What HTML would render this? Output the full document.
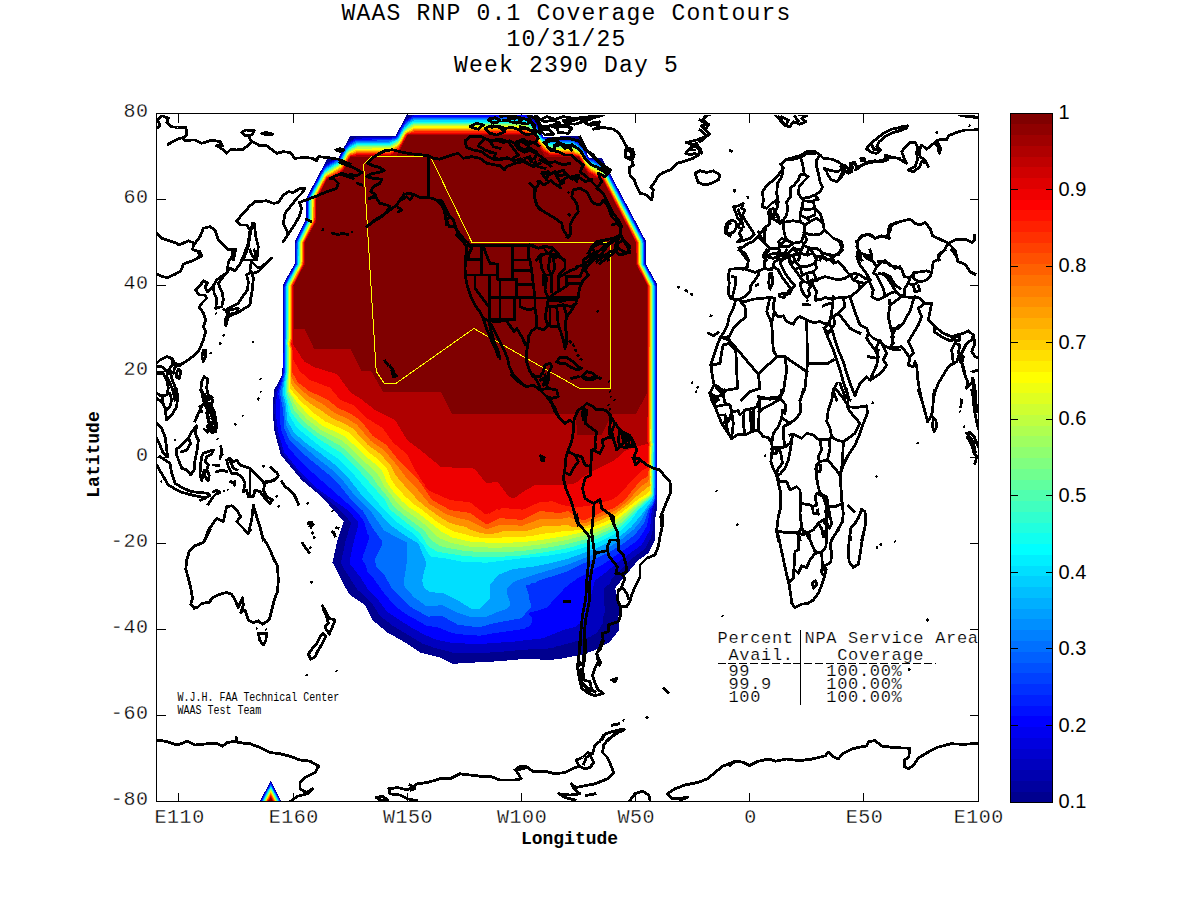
<!DOCTYPE html><html><head><meta charset="utf-8"><title>WAAS RNP 0.1 Coverage Contours</title><style>html,body{margin:0;padding:0;background:#fff;overflow:hidden}svg{display:block}</style></head><body><svg width="1200" height="900" viewBox="0 0 1200 900" style="display:block">
<rect width="1200" height="900" fill="#fff"/>
<g stroke="#000" stroke-width="1" fill="none" shape-rendering="crispEdges">
<path d="M178.5,801V792.5M178.5,114V122.5M293.5,801V792.5M293.5,114V122.5M407.5,801V792.5M407.5,114V122.5M521.5,801V792.5M521.5,114V122.5M635.5,801V792.5M635.5,114V122.5M749.5,801V792.5M749.5,114V122.5M863.5,801V792.5M863.5,114V122.5M157,199.5H165.5M978,199.5H969.5M157,285.5H165.5M978,285.5H969.5M157,371.5H165.5M978,371.5H969.5M157,457.5H165.5M978,457.5H969.5M157,543.5H165.5M978,543.5H969.5M157,629.5H165.5M978,629.5H969.5M157,715.5H165.5M978,715.5H969.5"/>
</g>
<g shape-rendering="crispEdges" clip-path="url(#axclip)">
<clipPath id="axclip"><rect x="157" y="115" width="821" height="686"/></clipPath>
<path fill="#00008F" d="M407.6,113 532.3,113 543.3,136.7 579.1,136.3 589.2,158.3 602,158.3 646,241.2 645.8,263.8 657.4,284.8 657.4,500 656.7,510 655,520 655,540 648.3,553.3 638.3,560 630,570 621.7,580 615,588.3 618.3,600 621.7,613.3 618.3,616.7 619.2,630 610,641.7 595,650 580,655 563.3,658.3 550,660 525,658.8 500,661.2 475,662.5 452.5,663.8 440,657.5 420,652.5 405,642.5 387.5,632.5 372.5,620 365,605 350,595 343.8,585 332.5,562.5 337.5,540 343.8,521.2 333.3,510 322.5,497.5 301.7,480 280.8,455 274.2,430 272.5,408.3 274.2,390 282.5,374.2 282.7,285 294.7,263.7 294.7,241.7 305.8,219.2 305.8,199 327.5,158.3 338.3,158.3 349.8,136.3 395.7,135.8Z"/>
<path fill="#0000BF" d="M412.4,115 414,114.2 526,114.2 533,118.6 534.4,120 543,136.8 550,137.7 573,137.6 581.1,143 588.1,157 590,158.9 595,159 603,163.7 605,165.6 644.6,240 645.2,243 645.2,264 655.8,283 656.8,287 656.7,499 654.2,510 652.9,520 652.5,531 650.8,538 645,548.8 635,556.1 623.1,567 612.4,578 611,580 611,581 610,582 610,583 608,585 607,585 604,588 604,604 604.9,607 605,612 604,613 604,615 603,616 603,623 599,629.7 598,630 598,631 595,634 592,635 590,637 589,637 587.6,638 559,646 557,646 556,646.8 552,648 548,648 547,649 525,649.6 499,652 480,653.1 456,653.5 452,653 451,652 434,647.7 423.3,644 393,625.9 380,616 371.9,603 357,589.1 343.4,568 341.4,564 341.1,562 345.3,542 351,523 348,520 348,519 347,518 346.8,517 343,513 323.8,496 313.7,488 302.9,478 282.3,453 275.9,430 274.1,409 275.6,391 282.9,374 283.3,287 284.4,283 295.1,264 295.4,243 296.1,240 306.4,219 306.4,201 307.5,197 324.2,166 326,163.9 334,159.3 338,158.9 340.8,155 345,146.7 348,142.4 356,137.4 389,137 395,136.4 396.9,135 405,120.1Z"/>
<path fill="#0000FF" d="M412.8,116 414,115.4 526,115.4 534,120.9 538,127.5 542,136.1 544,137.7 548,138.1 550,138.8 573,138.7 579.8,143 583.9,149 588,157.9 589,158.9 595,160.1 603,164.7 606.5,169 644.1,240 644.8,243 644.8,264 655.2,283 656.1,286 656.2,493 656,499 651.8,510 650,530 642.2,544 641,545.3 618,562 607,571.5 595.7,580 594.5,582 590.2,599 588,614 586,618 580,624 579,624 575.3,627 563,630.1 543,638.3 513,641.7 481,643.9 453,643.2 437,640 423,634 409,626.1 387.3,612 378.3,600 368.4,590 360,576.7 350,564 349.9,560 353,544.8 358.6,524 357.8,521 347,509.7 315,487 300,472 284,452 278,431.5 276,415 275.8,409 277,392 283.4,374 283.9,287 285.1,283 295.7,264 296,243 296.7,240 307,219 307,201 308.1,197 323,169 325,166.2 327,164.4 334.6,160 338.6,159 340,157.5 345,147.9 349,142.8 356,138.6 389,138.1 396,136.7 397,135.7 402,126.2 405.6,121Z"/>
<path fill="#0030FF" d="M413.2,117 526,116.7 532,120.4 534,122.6 537.7,128 541.9,137 543,138.1 548,138.8 550,139.9 573,139.9 579,143.5 583.2,149 587.5,158 589,159.7 594,160.5 603,165.9 606,169.2 643.5,240 644.3,243 644.3,264 654.7,283 655.6,286 655.6,493 655.3,499 653.1,505 650,510 647,526 638.9,539 637,541 603.6,564 595,568.6 592,571 591,571 590,572 589,572 588,573 587,573 586,574 585,574 584,575 583,575 582,576 581,576 580,577 577,578 574,581 573,581 571,583 570,583 566,587 565,587 563,589 563,590 551,602 551,603 546,608 544,608 543,609 541,609 540,610 538,610 537,611 534,611 533,612 530,612 529,613 529,615 532,618 532,622 531,623 531,624 528,627 527,627 524,629 495,633 480,635.7 455,633.9 454,633 452,633 437,627.1 432,627 431,626 427,625.9 406,614.2 401,610.6 394.3,605 391,601.4 383.9,593 374,579 369.1,574 367,571 367,569 366,568 366,566 365,565 365,564 363,562 363,561 362,560 363,555.4 367.1,545 367,543 368,542 368,540 369,539 369,536 367,534 367,531 366,530 366,528 365,527 365,524 364,523 364,522 362.3,519 358,513.3 351.5,507 309,469.5 294.8,455 288,447 288,446 286,443.1 280.8,429 279.6,411 280.1,401 278.7,397 278.4,393 284.2,372 284.5,287 285.7,283 296.3,264 296.5,243 297.3,240 307.6,219 307.6,201 308.7,197 324.5,168 327,165.4 335,160.9 339,159.7 340,158.7 345.6,148 349,144 356,139.7 389,139.3 396,137.6 397.5,136 402.2,127 405,123 407,120.9Z"/>
<path fill="#0070FF" d="M413.7,118 526,117.9 532,121.9 535,125.2 537.2,128 541.4,137 543,138.7 547,139.5 550,141 573,141 578,144 583,149.6 587,158 588.6,160 593,161.1 602,166.2 606,170.4 606.9,172 643,240 643.7,243 643.7,264 654.1,283 655.2,287 655,493 654.6,499 653,504 648.3,510 644.3,523 634,535.7 623,543.6 610,551.8 596,558.7 582,564 567,571.7 537.3,581 536,582 536,583 532,583 529,585 526,585 526,588 527,589 527,591 528,592 528,594 529,595 529,598 531,605 531,607 522,617.6 519,618.7 495,623 479,627.3 458,624.8 442,616 428,616.6 410,606.6 394,590.6 391.6,588 383.8,574 376,567 376,564 375,563 375.2,559 379.7,550 381.1,546 382,545 382,541 371.9,527 363,510.9 352,500.8 341,487 328,474 301,452 290,441 284,428 283.3,411 279.9,393 284.8,372 285.1,287 286.3,283 296.8,264 297.1,243 297.9,240 307.9,220 308.1,201 308.8,198 323.7,170 327.8,166 336,161.2 339,160.6 340.4,159 346,148.4 349,145.2 356,140.9 357,140.7 389,140.4 396,138.4 398,136.3 404,125.7 408,121.5Z"/>
<path fill="#009FFF" d="M412.3,120 414,119.1 526,119.1 531,122.3 537,128.8 541,137.1 543,139.2 547,140.2 550,142.1 573,142.1 578,145.2 583,150.6 587,159 588,160 590,161.3 593,161.8 601.5,167 606.3,172 642.4,240 643.2,243 643.2,264 653.5,283 654.5,286 654.6,486 654,499 652,503 646.7,510 641.6,520 634,529.2 622,539 610,546.7 597,553.2 567,564.9 532,575.4 513.2,582 507,589 507,593 510,602 510,605 509,606 509,607 505,609.5 497.5,612 487,616.6 470,616.7 455,611.7 442,605.1 430,606.3 426,606 413.8,597 405,587 404,585 403.8,582 406.7,563 407,543 406,542 405,542 404,541 397,537.7 384,530.4 370.6,511 356,497 344,482 331,469 317,458 292,436.8 285.7,424 285,408 281.5,393 285.4,372 285.2,342 285.6,338 285.7,287 286.4,284 297.3,264 297.6,243 298.5,240 308.5,220 308.7,201 309.4,198 324,170.8 328,166.9 336.6,162 339.4,161 341,159.1 346,149.6 349,146.3 357,141.8 389,141.6 392,140.2 395,139.5 398,137.5 403.1,128 408,122.7Z"/>
<path fill="#00DFFF" d="M412.6,121 414,120.3 526,120.4 530.1,123 535.4,128 537,129.8 541,138.1 544,140.3 546.4,141 550,143.2 573,143.2 577.6,146 582.6,151 587,160 588,161 592,162.5 601,167.8 606,172.6 641.8,240 642.6,243 642.7,264 653,283.1 654,286 654.3,446 653.8,494 653,498.8 642,514 631,527.2 621,535.4 610,541.7 597.3,548 567,559.1 551,563 533,566.7 513,569.1 498,575 490,585 490,598 480,609 472,609 456,599.4 444,593.4 430,592 424,588 424,587 423,586 423,583 422,582 424.1,571 425,569.2 425.2,567 425.9,566 426,562 419,545 416,542 407,536.8 390.1,525 377.6,511 371.1,505 360,493 346.9,476 334,464 320,453 306,443 294,432.8 287,420 286.2,406 283.1,394 283.3,388 286,372 285.7,342 286.2,338 286.4,286 287,284 297.9,264 298.2,243 299.1,240 309.1,220 309.3,201 309.9,198 324,171.7 328,168 340,161.3 341,160.3 347,149.3 349.7,147 357,143 390,142.5 397,139.5 398.4,138 403.9,128 409,123.3Z"/>
<path fill="#10FFEF" d="M413,122 414,121.6 526,121.7 531,125 536.4,130 541,139 542,140 546,141.6 550,144.3 573,144.3 577,146.8 582,151.2 586.5,160 588,161.7 592,163.3 601,168.8 605.6,173 641.2,240 642.1,243 642.2,264 652.9,284 653.5,287 653.4,441 653.7,445 653.2,463 653.6,469 653.1,471 653.5,475 653.1,479 653.3,494 652.9,497 638,510.8 629.8,522 622,529.7 610,536.7 600,541.7 587,546.7 566,552.7 548,555.7 515.5,559 487,562.7 462,561.8 456,560.6 455,560 451,559.6 450,559 431,556.7 429,555 423,544.6 414,534.2 398,523 384.2,510 349.9,470 337,458 322,448 298.2,429 296.4,427 289,415 287,402 284.6,394 284.5,389 286.7,372 286.7,347 286.2,342 286.9,338 286.9,287 287.6,284 298.4,264 298.7,243 299.7,240 309.7,220 309.9,201 310.5,198 324,172.7 329,168.5 340,162.3 341.3,161 346.7,151 350,147.7 357,144.1 390,143.7 397.4,140 399,138 404,129.1 408.4,125Z"/>
<path fill="#50FFAF" d="M413.5,123 525,122.8 529.2,125 536,130.6 540.5,139 542,140.7 550,145.4 573,145.4 577.1,148 582,152.3 586,160.1 588,162.3 603,171.1 605,173.1 641,240.8 641.5,243 641.7,264 652.3,284 653,287 652.8,441 653.2,445 652.8,447 652.6,463 653.1,469 652.5,472 653,475 652.5,479 653,484 652.5,488 652.8,494 652,496.6 638.1,509 630,518 622,525.7 610,532.7 600,537.7 587,542.6 567,548.4 546.6,552 520,555.7 486,557.5 463,555.8 437,551.7 428,546 420.4,534 419,532.6 390,509.7 385,500 354,465.1 340,452 326,443.6 317,437.5 302,425.7 299.2,423 291,412 286.2,394 285.7,389 287.3,372 287.3,347 286.8,342 287.5,338 287.6,286 288.2,284 299,264 299.3,243 300,240.5 310.2,220 310.5,201 311.1,198 324,173.8 328.2,170 340.1,163 341.9,161 346.6,152 349,149.5 357,145.2 390,144.8 396,141.8 398,140.3 404,130.1 410,125.1Z"/>
<path fill="#8FFF70" d="M412.1,125 414,124 525,124 526,124.2 534,129.5 536.5,132 540.7,140 543,142.1 550,146.5 573,146.5 579,150.8 580,151 582,153 586,161.1 587,162.1 593,166.3 601,170.9 605,174 640.5,241 641,243 641.2,264 651.8,284 652.4,286 652.2,441 652.7,445 652.2,447 652,463 652.5,469 651.9,472 652.5,475 651.9,480 652.4,484 651.9,488 652.2,494 652,495.2 651,496.2 636.5,508 621,523.1 608,530.5 595,536.2 585,539.4 566,544.4 546,547.8 520,551.3 486,552.5 464,550.8 447,547.8 440,546 432,540.8 428.5,537 426.1,533 423,529.5 403.8,515 393,506 388.5,498 377,484.2 372,476.7 357,461.3 343,447.9 339,445.1 319,433.7 314,430.1 303,421 293.3,409 292.2,405 287.7,394 286.9,389 287.9,372 288,347 287.3,343 288.1,338 288.2,286 288.8,284 299.5,264 299.8,243 300.3,241 310.8,220 311.1,201 311.7,198 324.5,174 327,171.7 337,166 341,163 342,162 347,152.5 351,149.2 357,146.4 390,146 398,141.4 399.2,140 404,131Z"/>
<path fill="#BFFF40" d="M412.5,126 414,125.2 525,125.2 535,131.1 536,132.1 540,140 545.9,145 550,147.5 573,147.7 580,152.1 581.9,154 586,162 588,164 602,172.4 604.9,175 640,241 640.4,243 640.6,264 651.8,286 651.7,441 652.2,445 651.6,447 651.4,463 652,468 651.3,472 651.9,475 651.3,480 651.8,484 651.3,488 651.6,494 650,495.7 634,507.9 620,520.5 608,527.4 595,532.8 565,540.4 539,544.6 520,546.8 494,547.8 469,546.5 452,543.1 441,538.9 438,537.2 426,525.6 416,517.6 406,510.8 398.2,504 384,485.9 378.2,475 371.5,468 363,460.5 346,443.9 342,440.7 321,429.9 306.8,419 297.8,409 295.2,405 291.3,397 288.6,393 287.9,384 288.6,372 288.6,348 287.9,343 288.7,338 288.7,286 300,264.2 300.4,243 300.9,241 311.2,221 311.6,219 311.7,200 312.3,198 325,174.3 340,165.1 342.1,163 347.5,153 350,150.8 357,147.5 390,147.2 397,143.3 399.3,141 404.1,132 407,129.4Z"/>
<path fill="#FFFF00" d="M412.8,127 414,126.4 525,126.4 534.9,132 536,133.2 541,142.1 546,146.2 550,148.6 573,148.8 581.1,154 585.5,162 588,164.8 592,167.9 603,173.8 604.2,175 639.4,241 639.9,243 639.8,262 640.4,265 651.3,286 651.1,441 651.6,445 651,447 650.8,463 651.5,468 650.7,472 651.3,475 650.7,480 651.2,484 650.7,488 651,493 649.7,495 640,501 619,517.8 607,524.7 594,529.7 564,536.3 539,540.3 520,542.3 494,543.1 470,541.6 452,537.4 441,531.3 419,513.5 409,507.2 402,501.1 391.2,489 386.1,481 383.3,473 382.1,471 375.3,464 365.3,456 345,436.2 322.8,426 309.6,416 298,403.6 289.5,392 288.8,384 289.2,348 288.4,344 289.3,338 289.3,286 300.3,265 300.9,262 300.9,243 301.5,241 311.7,221 312.2,219 312.2,200 312.9,198 325,175.3 326.4,174 329,173 340,165.9 342.7,163 347.5,154 349,152.3 357,148.6 390,148.4 396,145.1 399,142.3 405.8,131 410,129Z"/>
<path fill="#FFCF00" d="M413.3,128 525,127.7 529,130.1 534.1,132 535.9,134 539.5,141 541,142.9 545.6,147 550,149.7 573,149.9 576,152 579,152.9 581.4,155 585,162.1 589,166.6 591,168.3 600,173.7 603,174.6 604.3,176 638.8,241 639.3,243 639.3,262 639.9,265 650.7,286 650.5,441 651.1,445 650.5,447 650.2,464 651,468 650.1,472 650.7,477 650.1,480 650.6,485 650,491 646.5,494 638,499.4 618,515.3 606,521.7 592,527.1 580,529.8 570,531 566,530.6 558,532.2 544,533.6 533,535.8 521,537.1 504,537.3 492,538.4 480,537.7 470,536 464,533.9 455,531.8 446,527.3 438,522.5 422,509.7 412,502.8 403.9,495 395.7,486 391,479 387,468.4 379,460.1 368,451.7 348.6,432 325,421.3 313,412.4 300,400.4 293,392.1 292,390 290,388.5 289.8,348 289,344 289.9,338 289.9,286 300.9,265 301.5,262 301.5,243 312.3,221 312.8,219 312.8,200 313.5,198 325.3,176 327,174.4 329,173.8 340,167.1 343,163.7 348,154.2 349,153.2 357,149.7 390,149.5 396.1,146 399.4,143 404.9,133 406,131.8 410,130.2Z"/>
<path fill="#FF8F00" d="M413.8,129 525,128.9 528,130.8 534,132.5 535.4,134 540.2,143 545,147.7 550,150.7 573,151 576,152.9 580,154.3 581,155.3 585.6,164 589.4,168 591,169.4 600,174.5 602,175 604,176.6 638.2,241 638.8,243 638.7,262 639.3,265 650.2,286 649.9,441 650.5,445 649.9,447 649.6,463 650.4,468 649.5,472 650.2,477 649.5,480 650,485.4 635.7,497 628,504.3 616,513.3 591,524.3 587,525.8 581,527 571,526.5 566,524.5 558,526 543,525.9 540,527.2 527,530.9 521,531.4 504,531 496.8,533 491,533.9 481,533.3 470,529.6 466,527 455,524.7 449,522.4 441.4,518 428,508.6 418.7,501 400.3,481 394.3,473 390.3,465 383,456.9 379,453 367.9,445 353,428.6 345,423.9 331.6,418 319.1,409 314,406.2 307,401 303,397.3 295,389.4 291,383.5 290.5,378 290.5,348 289.5,344 290.5,339 290.5,286 301.4,265 302.1,262 302.3,242 312.6,222 313.4,219 313.6,199 326,176 327,175 330,174.2 340,168.2 343,164.9 348,155.4 350,153.4 354,152.4 357,150.9 390,150.7 397,146.5 400,143.4 405,134 407,132.1 411,130.9Z"/>
<path fill="#FF6000" d="M412.3,131 414,130.1 525,130.1 528,131.7 534,133.3 541,144.9 545,148.8 550,151.8 573,152.1 575,153.4 579,154.5 580.7,156 585,164.1 589,169 599,175 602,175.6 604,177.8 638.1,242 638.2,262 638.8,265 649.6,286 649.4,441 649.9,445 649.3,447 649.1,463 649.8,468 648.9,474 649.5,477 649,479.4 647,482.3 643,484.9 636,491.7 626.7,502 616,510.3 595,518.8 585,523.6 577,521.4 570,517.4 568,517.4 560,519.3 542,518.5 522,525.7 501,524.6 487,529.1 485,528.7 467.5,520 459,518.4 447,514.7 429.6,504 414.7,486 405,476.1 397,465.3 384,450.2 370.9,441 357,424.8 347,418.3 335,413.2 323,404.2 308,395.7 296,385 291.7,378 291.1,373 291.1,348 290.1,344 291.1,339 291.1,286 302,265 302.6,262 302.8,242 313.2,222 313.9,219 314.2,199 326,176.8 327,175.8 330.4,175 339.2,170 343,166.1 348.3,156 350,154.1 355,153 357,152 390,151.9 396.5,148 400,144.6 405.6,134 407,132.7 411,131.8Z"/>
<path fill="#FF2000" d="M412.7,132 414,131.3 525,131.3 527,132.4 532,133.2 533.7,134 542,147.2 544,149.2 550,152.9 572,153.1 575,154.4 579,155 580.8,157 585,165.1 590,170.9 599,175.9 602,176.3 603.5,178 637.5,242 637.6,262 638.3,265 649.1,286 648.8,441 649.3,445 648.7,447 648.5,464 649.2,468 648.3,472 648.3,475 647.1,477 642,479.6 640,481.4 633.4,489 625,500 614.3,508 599,513.3 585,520.2 582,520 580,519 568,511.1 559,513.1 540,511 522,519.9 500,518.1 488,524 485,523.5 470,513 450,510 433.9,501 431.5,499 419,480.8 398,459.4 386,444.5 372.9,436 361,420.9 350,413.2 338,408 327,399.3 309.1,391 298,382.4 292,372.1 291.7,348 290.7,344 291.7,339 291.7,286 302.5,265 303.2,262 303.4,242 313.3,223 314.5,219 314.8,199 326,177.9 328,176.2 331,175.8 340,170.5 343.1,167 349,156 350,155 355,154.1 357,153.1 390,153 397,148.9 399,147.1 406,134.5 407,133.5Z"/>
<path fill="#EF0000" d="M413.1,133 414,132.6 525,132.6 527,133.4 533,134 534.8,136 539.1,144 544,150.3 551,154.3 572,154.3 574,155.1 579,155.7 580.2,157 585,166 589,171.3 598,176.4 601.8,177 603,178.1 636.9,242 637.1,262 637.8,265 648.5,286 648.2,441 648.6,444 647.4,464 648,464.7 648,467.2 647,468.2 644,469.2 638,474.1 626.1,487 616,497.1 613.4,499 594.2,505 575,507.6 562,505 553,501.3 540,502 523,509.7 502,507.9 499,510.2 497,509.1 489,514 488,513 487,514 485,514 470,502.3 450,500 432,492 427,489 426.9,488 425,486 424.9,485 422,481 421.8,480 420,478 419.8,477 415,470 407,454 393,442.6 382.7,428 367,418.3 353.2,405 340.4,400 330,387.7 310,380 300,371.4 293,359.5 292.4,348 291.3,344 292.4,339 292.3,286 303.1,265 303.8,262 304,242 314,223 315.1,219 315.4,199 326.7,178 328,176.8 332,176.1 340,171.7 343.8,167 349.1,157 351,155.3 357,154.2 390,154.2 397,150.1 399,148.1 406,135.8 407.7,134Z"/>
<path fill="#AF0000" d="M413.6,134 525,133.8 533,134.6 534.3,136 541,148.2 543.4,151 551,155.4 572,155.4 579,156.2 587,170.3 589,172.5 597.2,177 601,177.4 602.9,179 636.3,242 636.7,263 638,266.7 648,286 648,393 647,442 648,443 647,444.1 636,446.6 625,451 614,460.6 593,470.9 585,475.4 577,482 574,483 573,484 563,485.1 535,485 522.9,492 516,497 514,498 511,498 510,497 509,496.8 498,482.3 494,482 489,483.1 486,483 475,469.2 473,468.5 441,467 422,451.4 407.1,440 396,421.6 394.3,420 392,418.4 375,410 360,398.2 351,393 337,374.1 315,367.4 305,362.1 303.1,360 292.7,344 292.9,286 303.6,265 304.2,262 304.2,243 315.3,221 315.7,219 316,199 327,178.5 328,177.5 332,177.1 341,172.1 344,167.8 349.1,158 351,155.9 357,155.4 390,155.4 399,149.6 406.5,136 408,134.5Z"/>
<path fill="#800000" d="M407.7,135 533.2,135 544.7,156.5 578.9,156.5 590.3,178 601.8,178 636,242.5 636,264 647.4,285.5 647.4,392.5 636.2,413.5 612.5,413.5 601.5,435 577,435 576,413.5 452,413.5 441.2,392.5 383.2,392 371.2,371.2 361.2,370.8 350.8,349.5 314.2,349 304.5,328.5 293.5,328.5 293.5,285.5 304.9,264 304.9,242.5 316.3,221 316.3,199.5 327.8,178 339.2,178 350.6,156.5 396.3,156.5Z"/>
<path fill="#00008F" d="M260.0,801.0 270.8,780.5 281.2,801.0Z"/>
<path fill="#0000BF" d="M260.5,801.0 270.8,781.4 280.7,801.0Z"/>
<path fill="#0000FF" d="M261.0,801.0 270.8,782.4 280.2,801.0Z"/>
<path fill="#0030FF" d="M261.4,801.0 270.8,783.3 279.8,801.0Z"/>
<path fill="#0070FF" d="M261.9,801.0 270.8,784.2 279.3,801.0Z"/>
<path fill="#009FFF" d="M262.4,801.0 270.8,785.2 278.8,801.0Z"/>
<path fill="#00DFFF" d="M262.9,801.0 270.8,786.1 278.3,801.0Z"/>
<path fill="#10FFEF" d="M263.4,801.0 270.8,787.0 277.8,801.0Z"/>
<path fill="#50FFAF" d="M263.9,801.0 270.8,788.0 277.3,801.0Z"/>
<path fill="#8FFF70" d="M264.3,801.0 270.8,788.9 276.9,801.0Z"/>
<path fill="#BFFF40" d="M264.8,801.0 270.8,789.8 276.4,801.0Z"/>
<path fill="#FFFF00" d="M265.3,801.0 270.8,790.8 275.9,801.0Z"/>
<path fill="#FFCF00" d="M265.8,801.0 270.8,791.7 275.4,801.0Z"/>
<path fill="#FF8F00" d="M266.3,801.0 270.8,792.6 274.9,801.0Z"/>
<path fill="#FF6000" d="M266.7,801.0 270.8,793.5 274.5,801.0Z"/>
<path fill="#FF2000" d="M267.2,801.0 270.8,794.5 274.0,801.0Z"/>
<path fill="#EF0000" d="M267.7,801.0 270.8,795.4 273.5,801.0Z"/>
<path fill="#AF0000" d="M268.2,801.0 270.8,796.3 273.0,801.0Z"/>
<path fill="#800000" d="M268.7,801.0 270.8,797.3 272.5,801.0Z"/>
</g>
<path fill="none" stroke="#FFFF00" stroke-width="1" shape-rendering="crispEdges" d="M363.6,164.2 371.8,156.5 430.5,156.5 471.8,242.1 610.8,242.1 610.8,388.0 578.8,388.0 473.8,328.5 396.2,383.2 384.2,383.2 376.2,371.2Z"/>
<g fill="none" stroke="#000" stroke-width="2.8" stroke-linejoin="round" shape-rendering="crispEdges" clip-path="url(#axclip)">
<path stroke-linecap="square" d="M156.7,128.3 160,125.8 157.5,119.2 162.5,115.8 168.3,118.3 166.7,122.5 171.7,126.7 177.5,127.5 185.8,127.5 187,135 183.3,137.5 177.5,139.2 168.3,144.2M183.3,138.3 184.2,140.3 195,140 201.7,143.3 211.7,140 220,141.7 222.5,145.8 216.7,145.8 222.5,149.2 226.7,153.3 230.8,149.2 236.7,150 243.3,149.2 247.5,145.8 251.7,141.3 249.2,138M241.7,132.5 245.8,130 254.2,130.8 251.7,135 245.8,135.8ZM251.7,141.3 260,145.8 266.7,145.8 273.3,150.8 276.7,153.3 283.3,151.7 290,152.5 295,158.3 305,157.5 312.5,158.3 316.7,160.8 318.3,156.7 326.7,157.5 338.3,159.2 350,164.2M261.7,133.3 266.7,135 272.5,134.2 266.7,132.5ZM335.8,150 340,151.3 344.2,150 340,148.8ZM236.7,220.8 243.3,213.3 250,205.8 255,201.7 266.7,200.8 273.3,203.3 278.3,202.5 283.3,195 288.3,191.7 293.3,192.5 300,188.3 305,188.3 302.5,192.5 296.7,198.3 291.7,205 285,213.3 283.3,223.3 288.3,234.2 283.3,241.7 293.3,226.7 299.2,216.7 301.7,208.3 299.2,202.5 305.8,200 315,196.7 326.7,191.7 336.7,188.3 338.3,183.3 333.3,178.3 330,178.3 341.7,173.3 350,175.8M236.7,220.8 240.8,225 246.7,225 250,230 248.3,243.3 243.3,256.7 241.7,260M252.5,223.3 250,235 248.3,246.7 243.3,260 256.7,260 258.3,246.7 255.8,236.7 254.2,223.3ZM156.7,233.3 161.7,238.3 166.7,240 175,242.5 179.2,245 188.3,240.8 195,243.3 200,236.7 203.3,228.3 210,226.7 215,230 218.3,240 223.3,245 228.3,250 235.8,249.2 233.3,260M194.2,243.3 192.5,249.2 198.3,251.7 200,256.7 194.2,260M306.7,219.2 310.8,221.3M332.5,233.3 338.3,234.7M342.5,233.7 347.5,234.2M156.7,274.2 162.5,276.7 168.3,277.5 175,274.2 180.8,270.8 183.3,264.2 190,261.7 195.8,259.2 201.7,255.8 200,251.7 194.2,250M233.3,250 231.7,256.7 228.3,262.5 227.5,270M246.7,250 243.3,257.5 240,264.2 235,270.8 230,268.3 227.5,271.7 223.3,276.7 218.3,283.3 220,288.3 222.5,293.3 223.3,300 221.7,306.7 215.8,308.3 216.7,298.3 214.2,293.3 213.3,285.8 216.7,280 223.3,275M213.3,285.8 207.5,291.7 205,287.5 207.5,282.5 203.3,280.8 200,285.8 195.8,290 199.2,295 205,295 206.7,298.3 201.7,303.3 199.2,307.5 203.3,312.5 205.8,320 203.3,326.7 205.8,331.7 203.3,340 200,348.3 196.7,353.3 188.3,360 180,365 175,366.7 173.3,373.3 170,370 171.7,378.3 175,386.7 176.7,395 177.5,400M225.8,325.8 225,320 227.5,315 225.8,310 231.7,306.7 238.3,303.3 242.5,296.7 247.5,290 248.3,281.7 246.7,275 251.7,271.7 253.3,278.3 252.5,288.3 250.8,298.3 250,305 243.3,309.2 238.3,312.5 233.3,314.2 228.3,316.7ZM226.7,310.8 233.3,309.2 238.3,308.3 236.7,312.5 230,314.2 227.5,312.5M251.7,261.7 256.7,266.7 260,268.3 266.7,262.5 271.7,258.3 266.7,263 263.3,266.7 258.3,271.7 253.3,273.3 250,270 250.8,264.2ZM250,250 252,255 254.2,258.3 255.3,253.3 254.2,250M203.3,350 205.8,350 205.8,356.7 203.3,361.7 202,356.7ZM178.3,369.2 180.8,371.7 179.2,378.3 176.7,377.5 176.7,372.5ZM201.7,381.7 204.2,376.7 207.5,379.2 206.7,388.3 208.3,395 212.5,397.5 208.3,400 203.3,396.7 200.8,390ZM180,365 175,363.3 171.7,358.3 166.7,356.7 160,360 156.7,363.3M171.7,358.3 172.5,365 168.3,370 166.7,376.7 170,383.3 173.3,391.7 175,400M156.7,366.7 161.7,366.7 166.7,370.8M156.7,373.3 163.3,373.3 166.7,380 168.3,388.3 166.7,395 160,395 156.7,393.3M156.7,398.3 161.7,401.7 165,408.3 166.7,420 171.7,415 176.7,406.7 177.5,396.7 176.7,390M162.5,396.7 170,393.3 171.7,400 170,406.7 166.7,410 163.3,405ZM156.7,393.3 162.5,396.7M201.7,390 205,398.3 208.3,396.7 212.5,400 211.7,406.7 214.2,411.7 215.8,420 215,428.3 212.5,431.7 210,423.3 207.5,418.3 208.3,411.7 205.8,406.7 203.3,400ZM205,395 207.5,403.3 210,408.3 212.5,415 213.3,423.3M195,420.8 200,410 202.5,405M205.8,400 208.3,406.7 206.7,413.3 209.2,418.3M210.8,403.3 213.3,410 211.7,416.7 214.2,423.3M208.3,421.7 210.8,425.8 208.3,429.2M200,406.7 201.7,411.7M204.2,429.2 207.5,432.5M209.2,410 211.3,415M207.5,425.8 212.5,421.7 216.7,423.3 215.8,431.7 212.5,432.5 208.3,430ZM156.7,423.3 161.7,428.3 165,436.7 166.7,448.3 167.5,456.7 163.3,453.3 160,445 156.7,438.3M156.7,465 168.3,485 180,491.7 191.7,495 200,496.7 205,498.3 200.8,500M160,456.7 170,463.3 171.7,473.3 175,483.3 183.3,488.3 191.7,491.7 200,492.5 208.3,493.3 210,495.8 203.3,498.3M213.3,491.7 216.7,490 220,492.5 215.8,494.2 213.3,496.7 208.3,504.2M176.7,449.2 183.3,443.3 188.3,438.3 191.7,431.7 196.7,425.8 195,433.3 198.3,440 197.5,448.3 195,460 194.2,470 190.8,475 186.7,470 181.7,468.3 179.2,461.7 176.7,455ZM181.7,451.7 186.7,450 190.8,443.3 189.2,440M203.3,453.3 208.3,451.7 213.3,450 211.7,454.2 206.7,456.7 205,461.7 208.3,465 206.7,470 209.2,475 208.3,480.8 205,476.7 204.2,470 201.7,480.8 200,473.3 200.8,463.3 201.7,456.7ZM220.8,446.7 221.7,451.7 220,458.3 221.7,455M213.3,465 218.3,465.3M216.7,471.7 221.7,470 226.7,471.7M230.8,481.7 232.5,482.7 235,481.7 234.2,485M226.7,460 230,458.3 233.3,461.7 236.7,460 240,465 250,468.3 258.3,476.7 265,484.2 263.3,490 266.7,496.7 272.5,500 270,503.3 265,498.3 260,491.7 255,490 253.3,496.7 248.3,496.7 246.7,490 243.3,491.7 245,483.3 241.7,476.7 236.7,473.3 231.7,473.3 228.3,466.7ZM250,468.3 250,496.7M230,460 233.3,468.3 236.7,470M265,482.5 270,481.7 275,479.2 278.3,475.8 276.7,472.5 273.3,470 270.8,467.5M266.7,481.3 273.3,480.8 277.5,477.5M281.7,481.7 285,486.7 290,490 294.2,495 296.7,500 298.3,504.2M308.3,523.3 313,524.7M332.5,531.7 335,535.8M205,540 208.3,530 216.7,518.3 223.3,521.7 225,513.3 226.7,506.7 231.7,505.8 236.7,510 240.8,516.7 236.7,521.7 243.3,528.3 248.3,533.3 251.7,520 253.3,505 256.7,516.7 260,526.7 263.3,540M210,530 206.7,536.7 203.3,542.5 195,545.8 189.2,551.7 186.7,560 185.8,569.2 188.3,578.3 190.8,588.3 192.5,598.3 190.8,604.2 194.2,608.3 198.3,606.7 201.7,603.3 209.2,602.5 212.5,597.5 220,594.2 226.7,592.5 231.7,594.2 235,600 238.3,607.5 240.8,601.7 242.5,597.5 243.3,605 240.8,612.5 245,610 248.3,620 253.3,622.5 258.3,620.8 262.5,624.2 269.2,620 271.7,610 274.2,600 277.5,591.7 278.3,580 277.5,565.8 274.2,560 270,550 266.7,543.3 262.5,537.5 260.8,530M244.2,530 247.5,533.3 250.8,530M258.3,633.3 266.7,633.3 265.8,640.8 263.3,645 260,640.8ZM302.5,543.3 305.8,548.3 309.2,552.5M322.5,605.8 325.8,611.7 329.2,618.3 335,620 332.5,626.7 329.2,634.2 326.7,630 325,626.7 328.3,623.3 326.7,616.7 324.2,611.7ZM323.3,633.3 325.8,636.7 322.5,643.3 318.3,650 315,656.7 310.8,659.2 308.3,654.2 312.5,648.3 316.7,643.3 320,636.7ZM156.2,740 165,741.2 177.5,745 187.5,741.2 195,745 207.5,743.8 217.5,743.8 222.5,746.2 227.5,742.5 236.2,741.2 236.2,737.5 237.5,742.5 250,743.8 260,747.5 270,752.5 280,753.8 290,756.2 300,760 310,761.2 318.8,766.2 315,772.5 305,777.5 300,782.5 300,788.8 306.2,792.5 312.5,788.8 307.5,793.8 297.5,796.2 291.2,800.8M376.2,797.5 382.5,796.2 387.5,800 381.2,800.5ZM450,778.8 440,778.8 427.5,782.5 417.5,783.8 407.5,790 397.5,787.5 388.8,788.8 390,793.8 400,795 407.5,798.8 416.2,800.5M410,785 415,788.8 411.2,790M440,778.8 450,778.8 460,773.8 470,775 480,776.2 490,776.2 500,780 515,780 521.2,778.8 517.5,772.5 515,770 520,766.2 527.5,767.5 532.5,771.2 545,771.2 555,773.8 565,772.5 572.5,768.8 578.8,766.2 576.2,760 582.5,757.5 587.5,752.5 592.5,753.8 595,745 600,741.2 603.8,735 612.5,731.2 623.8,730 615,733.8 607.5,740 603.8,745 602.5,752.5 607.5,757.5 611.2,766.2 613.8,772.5 607.5,778.8 595,783.8 582.5,786.2 576.2,787.5 571.2,783.8 575,790 580,793.8 570,795 558.8,793.8 565,797.5 575,800M578.8,766.2 585,768.8 590,767.5 593.8,762.5 590,755 586.2,757.5 583.8,763.8M515,770 522.5,768.8 527.5,767.5M517.5,768 526.2,766.5M612.5,725 618.8,723.8M586.2,795.5 595,793.8M630,800.5 635,793.8 642.5,791.2 648.8,795 650,800.5M740,761.2 732.5,762.5 722.5,766.2 715,772.5 707.5,778.8 697.5,782.5 685,785 675,788.8 667.5,793.8 672.5,798.8 687.5,797.5 680,800M730,765.5 734.3,761.2 743,762.2 749.5,765.5 758.2,761.2 769,759 775.5,761.2 786.3,759 799.3,760.7 812.3,759 825.3,755.8 828.6,752.1 831.8,755.8 838.3,759 842.7,753.6 851.3,749.2 860,747.1 866.5,746 868.7,741.7 875.2,740.6 881.7,746 894.7,747.7 909.8,748.2 908.8,756.8 904.4,760.1 904.4,766.6 908.8,768.8 914.2,764.4 918.5,757.9 929.3,751.4 938,747.1 951,743.8 964,744.3 977,743.4M340,162.5 348.3,165.8 355,168.3 361.7,172.5 356.7,175.8 350,174.2 353.3,178.3 348.3,176.7 340,174.2M378.3,154.2 373.3,157.5 367.5,163.3 373.3,165.8 380,167.5 384.2,170.8 378.3,172.5 370,174.2 366.7,176.7 373.3,178.3 381.7,179.2 380,183.3 373.3,186.7 370.8,191.7 375.8,195 369.2,198.3 375.8,197.5 380,203.3 386.7,205 390,206.7 386.7,211.7 381.7,216.7 373.3,221.7 366.7,226.7 375,220 383.3,215 390,210 396.7,205 400,200 404.2,194.2 410,193.3 415,195 420,197.5 428.3,197.5 435,199.2 440,203.3 445,208.3 448.3,215 453.3,220 456.7,230 463.3,238.3 468.3,243.3 471.7,248.3 468.3,255 468.3,260M378.3,154.2 385,150.8 392.5,149.7 400,151.7 410,153.7 420,154.7 428.3,155.8 433.3,158.3 440,159.2 446.7,156.7 451.7,155 458.3,153.3 463.3,158.3 471.7,156.7 480,158.3 486.7,163.3 495,165 500,165.8 504.2,170 506.7,166.7 515,163.3 523.3,161.7 530,165 533.3,166.7 540,163.3M428.2,156.3 428.2,197.5M428.8,156.3 428.8,197.5M398.3,207.5 401.7,210 398.3,211.7M404.2,194.2 401.7,200 406.7,196.7 410,200 413.3,195M341.7,233.3 346.7,234.2M357.5,183.3 361.7,185M436.7,200 441.7,200.8 446.7,210 450,216.7 446.7,220 449.2,226.7 455,226.7 460,236.7 466.7,241.7M440,202.5 444.2,210 446.7,225M465,140.8 470,136.7 481.7,136.7 490,140.8 500,139.2 508.3,141.7 513.3,148.3 518.3,155 511.7,159.2 503.3,158.3 495,160 488.3,156.7 481.7,151.7 473.3,150 466.7,147.5ZM483.3,140 478.3,145.8 485,150 495,153.3M490,140.8 493.3,146.7 500,148.3M470,126.7 476.7,123.3 483.3,125 478.3,129.2ZM485,128.3 491.7,125.8 500,127.5 505,131.7 496.7,135 490,133.3ZM488.3,120 495,117.5 500,120.8 493.3,123.3ZM508.3,117.5 515,115.8 521.7,120 516.7,123.3 510,121.7ZM520,126.7 528.3,128.3 533.3,133.3 526.7,135 520.8,131.7ZM516.7,141.7 523.3,139.2 530,143.3 526.7,150 520,148.3ZM528.3,115 535,118.3 539.2,125 540,133.3 535,130 531.7,123.3ZM525,158.3 530,156.7 531.7,161.7M540,181.7 535.8,188.3 534.2,196.7 536.7,205 540,208.3M603.3,114.7 595,117.5 585,120 587.5,124.2 596.7,123.3 599.2,126.7 593.3,129.2 603.3,127.5 613.3,129.2 619.2,133.3 623.3,140.8 626.7,146.7 625,151.7 625.8,157.5 631.7,160 634.2,155 632.5,149.2 628.3,148.3 625.8,152.5M627.5,150 630.8,151.7 632,156.7 628.3,157.5M631.7,160 633.3,165 629.2,167.5 630,175 634.2,180 636.7,186.7 640,193.3 645,194.2 648.3,196.7 651.7,200 653.3,190 650.8,187.5 655,181.7 658.3,175.8 663.3,172.5 671.7,169.2 676.7,163.3 683.3,161.7 693.3,158.3 698.3,155 700,150 695,145.8 690,148.3 685.8,153.3 690,155 695,153.3M686.7,142.5 696.7,140 705,136.7 709.2,133.3 705,130 701.7,125.8 708.3,124.2 703.3,120 705,115.8 709.2,114.7M686.7,142.5 691.7,145 696.7,143.3 700,150M688.3,150 694.2,150M695,173.3 700,170.8 706.7,172.5 713.3,170.8 720,175 718.3,180 711.7,183.3 705,185 698.3,182.5 696.7,178.3ZM730,223.3 725.8,226.7 725.8,233.3 730,235.8M535,114.7 540,120 546.7,116.7 555,119.2 563.3,116.7 573.3,118.3 585,117.5 601.7,115M536.7,118.3 545,121.7 553.3,120 560,123.3 550,125.8 541.7,126.7ZM556.7,126.7 566.7,125 571.7,128.3 568.3,133.3 558.3,132.5ZM540,130 548.3,129.2 553.3,134.2 545,135ZM563.3,120 573.3,120.8 580,118.3 583.3,121.7 575,124.2 565,123.3ZM530,120 535,125 533.3,131.7 538.3,138.3 535,143.3 530,141.7M530,148.3 536.7,151.7 535,158.3 530,160M545,143.3 551.7,140 558.3,141.7 565,148.3 573.3,145.8 580,150 585,158.3 591.7,165 600,168.3 610,171.7 605,176.7 598.3,173.3 601.7,181.7 596.7,188.3 603.3,193.3 600,190 593.3,183.3 586.7,176.7 580,171.7 583.3,165 576.7,160 571.7,155 565,155 558.3,151.7 550,150ZM568.3,138.3 578.3,140.8 585,149.2 593.3,155 596.7,160 603.3,166.7 610,170.8M546.7,140 555,138.3 568.3,138.3M555,145.8 563.3,144.2 571.7,150M555,173.3 563.3,170 568.3,176.7 560,181.7ZM571.7,176.7 578.3,175 576.7,181.7ZM541.7,173.3 548.3,171.7 546.7,180ZM540,160 546.7,163.3 555,161.7 563.3,165 570,163.3M538.3,166.7 545,168.3M530,183.3 535,188.3 534.2,196.7 538.3,208.3 546.7,213.3 555,218.3 561.7,223.3 563.3,230 568.3,237.5 570.8,233.3 570,225 573.3,218.3 578.3,211.7 576.7,203.3 571.7,196.7 573.3,190 580,188.3 586.7,191.7 590,198.3 593.3,203.3 600,205 603.3,200 608.3,206.7 611.7,216.7 616.7,221.7 620.8,228.3 620,235 613.3,238.3 605,240 596.7,241.7 591.7,246.7 588.3,253.3M603.3,193.3 608.3,203.3 613.3,213.3 618.3,220 621.7,226.7M612.5,225 616.7,223.3M620.8,235 616.7,241.7 618.3,248.3 623.3,251.7 630,252.5 627.5,246.7 623.3,240ZM588.3,253.3 593.3,246.7 600,243.3 606.7,245 603.3,251.7 600,256.7 606.7,255 608.3,260M593.3,250 596.7,255 593.3,260M530,245 538.3,248.3 546.7,246.7 553.3,248.3 550,253.3 540,255 536.7,260M545,250 551.7,256.7 558.3,255 563.3,260M456.7,235 461.7,240 466.7,246.7 465.8,256.7 465,268.3 465.8,278.3 467.5,286.7 470.8,296.7 475,305 480.8,313.3 483.3,318.3 488.3,320.8 498.3,321.7 505.8,320 510,325.8 514.2,331.7 516.7,328.3 521.7,336.7 525.8,345 528.3,341.7 528.3,336.7 531.7,330.8 536.7,327.5 543.3,330 548.3,325.8 553.3,326.7 558.3,325.8 560.8,331.7 563.3,340 565,348.3 566.7,343.3 566.7,335 565,325 566.7,316.7 571.7,310 575.8,303.3 578.3,295 580,286.7 583.3,280 588.3,275 585,270 588.3,265 593.3,260 598.3,256.7 603.3,251.7 608.3,245 615,240 620,235M466.7,245.8 533.3,245.8 538.3,248.3 543.3,246.7 551.7,247.5 558.3,253.3 553.3,255 546.7,253.3 540,256.7M550,256.7 548.3,268.3 551.7,275 555,268.3 553.3,258.3 558.3,256.7 565,260 565,268.3 560,273.3 558.3,276.7M560,276.7 570,270.8 576.7,268.3M576.7,266.7 583.3,265 591.7,258.3 600,250 608.3,243.3 616.7,238.3M467.5,260 481.7,259.2M465.8,275 497.5,275M489.2,297.5 545.8,298 575,297.5M489.2,319.2 514.2,319.2M481.7,245.8 481.7,275M483.3,245.8 485.8,253.3 490,263.3 496.7,264.2M497.5,264.2 497.5,279.2 516.7,279.2M512.5,245.8 512.5,279.2M475,275 475,288.3 487.5,305M489.2,275 489.2,319.2M500,279.2 500,318.3M514.2,297.5 514.2,319.2M516.7,279.2 516.7,297.5M528.3,245.8 528.3,260M512.5,260 530,260M512.5,270.8 531.7,270.8M516.7,284.2 533.3,284.2M530,260 531.7,270.8 533.3,284.2 535,297.5 535,308.3 536.7,318.3 536.7,327.5M520,297.5 520,306.7 528.3,310 535,308.3M540,256.7 541.7,268.3 546.7,278.3 545,290 548.3,298.3 546.7,308.3 545,318.3 548.3,325M549.2,300.8 576.7,299.2M548.3,306.7 566.7,305M550,306.7 550,325M556.7,306.7 558.3,325M563.3,305 566.7,315M543.3,275 551.7,275M543.3,275 543.3,285M551.7,275 551.7,291.7M558.3,276.7 558.3,290M548.3,298.3 555,293.3 563.3,288.3 570,283.3M566.7,276.7 580,276.7M566.7,283.3 578.3,283.3M566.7,276.7 566.7,283.3M580,276.7 583.3,268.3 588.3,265M583.3,268.3 583.3,260 593.3,253.3M560,301.7 578.3,296.7M563.3,305 571.7,306.7 575.8,303.3M590,263.3 591.7,255 596.7,251.7M595,258.3 600,255M600,263.3 606.7,258.3 613.3,253.3 616.7,250 610,251.7 603.3,256.7 596.7,261.7M615,245 623.3,240 630,246.7 626.7,253.3 620,255 615.8,251.7ZM483.3,318.3 485.8,326.7 490,336.7 494.2,346.7 497.5,353.3 500,358.3 498.3,351.7 494.2,341.7 490.8,330 489.2,321.7 493.3,328.3 498.3,338.3 503.3,348.3 507.5,358.3 509.2,366.7 513.3,375 520,381.7 523.3,385M495,346.7 498.3,356.7M528.3,341.7 526.7,351.7 526.7,361.7 530,371.7 533.3,376.7 540,376.7 543.3,371.7 545,365 550,363.3 551.7,366.7 548.3,373.3 548.3,380 546.7,385M540.8,380 545.8,376.7 543.3,385M556.7,361.7 560,357.5 566.7,357.5 573.3,361.7 578.3,366.7 581.7,368.3 576.7,370 570,366.7 565,363.3 560,363.3ZM581.7,376.7 586.7,371.7 593.3,373.3 596.7,377.5 591.7,380 585,379.2ZM511.7,375 518.3,381.7 526.7,386.7 533.3,385 540,390 546.7,396.7 551.7,403.3 555,411.7 560,418.3 565,423.3 570,420 573.3,423.3 575,416.7 578.3,410 583.3,406.7 586.7,403.3 591.7,405.8 596.7,410 601.7,409.2 606.7,410.8 610.8,416.7 615,423.3 620,430 625,433.3 630,435.8 633.3,441.7 636.7,450 633.3,458.3 638.3,458.3 646.7,465 653.3,468.3 660,470 665,476.7 670,481.7 670.8,491.7 666.7,501.7 663.3,510 660.8,516.7 661.7,525M533.3,375 538.3,383.3 541.7,391.7 550,400 555,408.3 558.3,416.7 563.3,421.7 565,423.3M540,390 548.3,388.3 556.7,390 558.3,396.7 551.7,398.3 546.7,396.7ZM545,375 546.7,385 548.3,388.3M583.3,408.3 586.7,410.8 585.8,418.3 583.3,420 582.5,413.3ZM584.2,410 584.7,418.3M586.7,410.8 585,423.3 591.7,428.3 596.7,431.7 595,441.7 595.8,448.3 592.5,450M610.8,416.7 610,425 609.2,433.3 613.3,438.3 611.7,431.7 615,423.3M620,430 618.3,440 620,446.7 623.3,443.3 622.5,433.3M625,433.3 625.8,441.7 626.7,446.7 629.2,445 628.3,435.8M631.7,439.2 632.5,446.7M592.5,450 600,453.3 603.3,446.7 602.5,440 608.3,437.5 613.3,438.3 616.7,450 620,446.7 626.7,447.5 633.3,445M573.3,423.3 573.3,431.7 571.7,441.7 568.3,450 565.8,458.3 565,468.3 563.3,478.3 565.8,488.3 570,498.3 573.3,508.3 575.8,518.3 578.3,525M568.3,451.7 575,455 578.3,461.7 573.3,468.3 570,475 566.7,473.3M575,455 581.7,456.7 585,465 590.8,466.7 591.7,450M590.8,466.7 590.8,475 585,478.3 582.5,488.3 585,498.3 590,501.7 594.2,503.3 600,499.2 601.7,508.3 608.3,513.3 613.3,516.7 614.2,525M594.2,503.3 593.3,513.3 592.5,525M540.8,455.8 544.2,457.5 543.7,460.8 541.3,460ZM606.7,410.8 610,414.2M633.3,458.3 635.8,465 639.2,461.7M571.7,378.3 578.3,376.7M583.3,377.5 590,378.3 596.7,376.7M662.5,515 662.5,525 660,536.7 658.3,546.7 655,555 646.7,558.3 640,565 640,576.7 635,586.7 631.7,595 630,601.7 626.7,606.7 620,605.8 617.5,600 618.3,590 623.3,588.3 626.7,593.3 628.3,598.3M620,605.8 620.8,615 618.3,621.7 608.3,625 608.3,631.7 602.5,633.3 603.3,641.7 600,650 596.7,653.3 598.3,658.3 600.8,662.5 599.2,665M576.7,515 578.3,523.3 586.7,533.3 589.2,536.7 588.3,548.3 588.3,565 586.7,581.7 585.8,598.3 582.5,615 580.8,631.7 580,648.3 578.3,658.3 580,665M593.3,515 591.7,531.7 593.3,545 595,555 591.7,570 589.2,585 589.2,601.7 585.8,618.3 584.2,635 584.2,651.7 582.5,665M610,515 614.2,525 617.5,531.7 618.3,541.7 618.3,550 623.3,555 625.8,563.3 626.7,571.7 621.7,574.2 615.8,573.3 617.5,566.7 613.3,561.7 608.3,555 607.5,546.7 610,540 615.8,540 618.3,541.7M597.5,552.5 606.7,550.8 607.5,546.7M621.7,574.2 625,578.3 621.7,586.7M564.2,601.7 570,601.7M580,640 579.2,653.3 577.5,666.7 579.2,678.3 581.7,688.3 588.3,693.3 595,695.8 603.3,693.3 598.3,690 595,683.3 592.5,675 595,668.3 598.3,661.7 596.7,653.3 600,646.7 602.5,640M585.8,640 585,656.7 582.5,670 584.2,680 590,681.7 591.7,690M580.8,681.7 588.3,688.3 595,691.7M583.3,685 590,691.7M580,670 581.7,680M611.7,680 616.7,678.3 615,681.7ZM664.2,688.3 668.3,692.5M601.7,740 605,734.2 611.7,731.7 618.3,730 624.2,729.2 618.3,732.5 613.3,735.8 608.3,740M706.7,114.7 703.3,120 708.3,125 705,130 709.2,134.2 703.3,139.2 700,141.7M700,148.3 701.7,153.3M700,120 705,123.3M700,130 704.2,133.3M775,115 780,120 785,125.8 790,126.7 793.3,121.7 800,124.2 805.8,121.7 801.7,118.3 806.7,115.8 800,114.7M781.7,116.7 788.3,120 786.7,124.2M795,116.7 798.3,120.8M778.3,116.7 783.3,122.5M780.8,164.2 786.7,159.2 793.3,157.5 800,155.8 806.7,151.7 815,151.7 820,155 823.3,158.3 831.7,159.2 838.3,161.7 843.3,165.8 845,170.8 841.7,176.7 836.7,181.7 831.7,180 828.3,175.8 826.7,171.7 824.2,168.3 831.7,170.8 838.3,171.7 842.5,167.5M786.7,160 793.3,159.2 800,157.5 806.7,153.7 815,153.7M845,170.8 848.3,173.3 851.7,171.7 850,165 853.3,162.5 857.5,166.7 855.8,170 860,166.7 866.7,163.3 875,161.7 883.3,160 888.3,158.3 885.8,155 891.7,157.5 900,158.3M780.8,164.2 783.3,168.3 778.3,175 773.3,180 766.7,185.8 762.5,191.7 763.3,200 762.5,206.7 766.7,208.3 771.7,203.3 775.8,200.8 777.5,206.7 775,211.7 778.3,216.7 779.2,221.7 783.3,220 786.7,215 787.5,208.3 786.7,201.7 790.8,196.7 790,188.3 794.2,185 798.3,180 800,175 804.2,174.2 808.3,176.7 803.3,181.7 799.2,186.7 798.3,193.3 801.7,198.3 808.3,197.5 815,195 820,191.7 822.5,186.7 820,181.7 818.3,173.3 816.7,166.7 816.7,160 820,155M783.3,168.3 781.7,176.7 777.5,183.3 776.7,193.3 778.3,201.7 777.5,206.7M800,155.8 802.5,163.3 804.2,174.2M815,195 818.3,199.2 815,200M803.3,200.8 813.3,201.7 815,208.3 806.7,210 801.7,208.3ZM801.7,208.3 800,215 806.7,218.3 815,215 815,208.3M800,215 800,221.7 805,225 810,221.7 806.7,218.3M769.2,210 773.3,208.3 775,213.3 773.3,218.3 770,218.3 768.3,213.3ZM770,211.7 773.3,216.7M733.3,206.7 738.3,205.8 743.3,203.3 741.7,208.3 745,210 742.5,215 745,220 748.3,225 751.7,230 754.2,234.2 750,238.3 743.3,240.8 737.5,241.7 741.7,237.5 739.2,233.3 741.7,229.2 738.3,226.7 740.8,221.7 737.5,218.3 735.8,212.5ZM738.3,210 740.8,216.7 743.3,226.7M726.7,223.3 731.7,220 735.8,221.7 736.7,226.7 734.2,231.7 729.2,234.2 725.8,231.7 727.5,227.5ZM739.2,248.3 743.3,246.7 748.3,243.3 753.3,241.7 757.5,236.7 761.7,231.7 765.8,226.7 769.2,225 769.2,218.3M775,220 780,223.3 786.7,221.7 793.3,220.8 800,221.7M739.2,248.3 743.3,255 747.5,260M757.5,236.7 761.7,240 765,243.3 764.2,236.7 765.8,226.7M758.3,231.7 761.7,238.3M783.3,223.3 784.2,233.3 786.7,240M765,243.3 770,248.3 778.3,248.3 781.7,243.3 786.7,240M786.7,240 793.3,243.3 801.7,241.7 804.2,233.3 805,225M778.3,241.7 781.7,238.3 790,241.7 793.3,243.3 788.3,246.7 781.7,246.7ZM805,225 810,221.7 816.7,218.3 823.3,223.3 824.2,230 820,234.2 813.3,235 804.2,233.3M804.2,233.3 806.7,240 803.3,245 810,248.3 816.7,248.3 823.3,253.3 830,255 838.3,255 842.5,246.7 841.7,241.7 833.3,238.3 828.3,233.3 824.2,230M815,208.3 820,213.3 823.3,223.3M770,248.3 766.7,253.3 763.3,256.7 766.7,260M778.3,248.3 780,253.3 788.3,253.3 793.3,248.3 801.7,250 803.3,245M780,253.3 778.3,260M788.3,253.3 790,260M793.3,248.3 800,256.7 798.3,260M810,248.3 813.3,253.3 816.7,260M823.3,253.3 820,260M830,255 833.3,260M900,127.5 891.7,129.2 883.3,133.3 875,140 868.3,145.8 866.7,149.2 871.7,152.5 876.7,153.3 880.8,150 876.7,146.7 879.2,141.7 885,136.7 893.3,132.5 900,130.8M871.7,145 874.2,150 878.3,149.2M860.8,158.3 864.2,158 864.7,160.8 861.3,161ZM900,221.7 891.7,225 890,231.7 886.7,236.7 880,236.7 875,238.3 870,234.2 863.3,235.8 858.3,240 856.7,246.7 860,253.3 866.7,255 871.7,256.7 871.7,260M858.3,253.3 861.7,260M900,127.2 907.5,125.8 906.7,128.3 900,130.3M840,176.7 842.5,171.7 840.8,166.7 845,165 847.5,168.3 850,172.5 852.5,167.5 850,163.3 855,162.5 856.7,168.3 861.7,165 868.3,161.7 875,160.8 881.7,161.7 887.5,160 885,155.8 890,156.7 898.3,158.3 903.3,161.7 906.7,163.3 904.2,158.3 901.7,151.7 905.8,146.7 910,142.5 915,142.5 917.5,146.7 916.7,153.3 917.5,160 915,166.7 908.3,170 913.3,171.7 919.2,167.5 921.7,161.7 926.7,163.3 928.3,166.7 925,160 920,156.7 919.2,150 921.7,145 926.7,149.2 930.8,145.8 935,142.5 938.3,147.5 939.2,153.3 940.8,149.2 936.7,140.8 941.7,139.2 946.7,140 948.3,135.8 956.7,132.5 965,130 973.3,130 978.3,129.2M960,115 968.3,116.7 978.3,117.5M966.7,114.7 973.3,116M856.7,241.7 861.7,235.8 868.3,234.2 875,238.3 881.7,235.8 889.2,238.3 888.3,230 890,225 896.7,222.5 903.3,220.8 910,219.2 915,223.3 920,225 925,222.5 930,228.3 932.5,235.8 940,239.2 948.3,243.3 956.7,239.2 965,239.2 971.7,242.5 975,240 974.7,235M948.3,243.3 955,250 957.5,260M948.3,243.3 943.3,251.7 938.3,255 939.2,260M856.7,241.7 857.5,248.3 860.8,253.3 860,260M865,256.7 870.8,255 871.7,260M840,243.3 841.7,248.3 840,251.7M739.2,250 745,253.3 748.3,260 747.5,266.7 743.3,269.2M730,269.2 743.3,268.3 755,272.5 758.3,270.8M730,269.2 728.3,275 729.2,283.3 728.3,293.3 730.8,298.3 735.8,300 739.2,299.2 745,296.7 750,291.7 750.8,285.8 755,280 758.3,275 759.2,270.8 765,268.3 770,270 773.3,266.7 778.3,270 781.7,276.7 786.7,283.3 790.8,288.3 788.3,291.7 785.8,295 790,293.3 791.7,289.2 795,285.8 790,280 785,273.3 781.7,266.7 780,261.7 785,258.3 788.3,256.7M732.5,276.7 735.8,277.5 735,286.7 732.5,296.7 730.8,298.3M779.2,294.2 785,293.3 784.2,297.5 780,296.7ZM769.7,273.3 772,273.3 772.5,283.3 770,289.2 768.7,283.3ZM765,268.3 764.2,261.7 766.7,256.7 763.3,255 766.7,250M766.7,256.7 773.3,258.3 778.3,256.7 776.7,253.3 770,254.2ZM773.3,266.7 774.2,261.7 778.3,260 785,258.3M778.3,256.7 783.3,255 788.3,256.7M776.7,253.3 780,250M783.3,255 786.7,250M788.3,256.7 790,263.3 795,270 800,276.7 803.3,281.7 800,283.3 801.7,290 804.2,295 806.7,297.5 810,295 808.3,290 810.8,286.7 808.3,282.5 811.7,280 816.7,280.8 820,278.3M788.3,256.7 793.3,255 800,253.3 806.7,255 813.3,253.3 816.7,256.7 815,263.3 816.7,268.3 813.3,271.7 806.7,273.3 800,276.7M793.3,255 795,261.7 800,266.7 806.7,266.7 815,263.3M800,266.7 801.7,273.3M806.7,273.3 808.3,282.5M813.3,271.7 816.7,280.8M806.7,255 808.3,250M816.7,256.7 821.7,256.7 826.7,260M790,263.3 795,261.7M795,270 800,266.7M803.3,281.7 808.3,282.5M803.3,304.2 810,305M823.3,305.8 830,303.3M820,250 823.3,256.7 828.3,260 833.3,256.7 838.3,253.3 842.5,250M830,260 833.3,263.3 838.3,261.7 843.3,266.7 846.7,271.7 850,275M820,278.3 825,276.7 831.7,278.3 838.3,280 845,278.3 850,275M813.3,285.8 816.7,291.7 815,298.3 820,300 825,297.5 831.7,299.2 833.3,296.7M813.3,285.8 811.7,280M850,275 853.3,280 858.3,281.7 860,288.3 856.7,291.7 850,296.7 843.3,297.5 833.3,298.3M850,275 855,273.3 860,275 865,278.3 870,280M853.3,280 856.7,276.7M858.3,281.7 865,283.3 870,280M860,288.3 865,283.3M858.3,250 856.7,256.7 860,265 865,271.7 868.3,276.7 870,283.3 873.3,290 871.7,296.7 878.3,300 885,296.7 883.3,288.3 880,281.7 876.7,275 873.3,273.3 876.7,266.7 873.3,261.7 866.7,258.3 871.7,255 870,250M833.3,298.3 832.5,306.7 830.8,316.7 829.2,323.3M843.3,298.3 845,306.7 838.3,313.3 833.3,316.7M850,296.7 853.3,306.7 856.7,316.7 860,325 866.7,328.3 868.3,333.3M838.3,313.3 845,321.7 850,328.3 856.7,331.7 860,333.3M833.3,316.7 835,323.3 831.7,328.3M868.3,333.3 866.7,338.3 870,343.3 875,350 878.3,343.3 880,340 883.3,346.7 886.7,353.3 883.3,360 886.7,365M868.3,333.3 873.3,338.3 878.3,340.8 883.3,345 890,348.3 895,350 900,350M885,296.7 890,293.3 895,291.7 900,295M900,325 895,330 891.7,336.7 893.3,343.3 890,348.3M876.7,266.7 881.7,261.7 888.3,263.3 895,268.3 900,266.7M883.3,273.3 890,276.7 895,285 900,288.3M824.2,328.3 828.3,338.3 833.3,350 836.7,360 840,370 843.3,381.7 846.7,391.7 849.2,400M831.7,328.3 835,340 838.3,350 843.3,361.7 846.7,373.3 850,383.3 853.3,391.7 855,395M824.2,328.3 829.2,323.3 831.7,328.3 828.3,333.3ZM855,395 860,383.3 866.7,376.7 870,380 878.3,375 883.3,370 886.7,365M875,350 878.3,356.7 876.7,365 870,380M868.3,356.7 876.7,358.3 878.3,350M735.8,300 733.3,308.3 729.2,316.7 727.5,325 723.3,333.3 720,338.3 716.7,346.7 713.3,356.7 710.8,365 712.5,376.7 714.2,385 710,393.3 713.3,400M739.2,300 745,301.7 753.3,299.2 761.7,298.3 770,297.5 775,298.3 773.3,305 774.2,311.7 778.3,316.7 783.3,315.8 786.7,321.7 793.3,324.2 796.7,318.3 800,316.7 806.7,320 813.3,322.5 820,321.7 824.2,323.3 829.2,323.3M739.2,300 745,306.7 745.8,316.7 740,321.7 733.3,328.3 729.2,336.7 720.8,337.5M720.8,337.5 729.2,340 729.2,343.3 723.3,345 721.7,351.7 720,363.3 713.3,365M729.2,343.3 735.8,350 737.5,388.3 723.3,390.8 718.3,386.7 714.2,385M729.2,340 758.3,374.2 776.7,356.7M770,297.5 766.7,311.7 771.7,323.3 773.3,350 776.7,356.7 785,356.7 806.7,371.7M774.2,311.7 771.7,323.3M806.7,320 807.5,363.3M807.5,363.3 806.7,371.7M807.5,363.3 828.3,363.3 833.3,360M785,356.7 786.7,370 783.3,391.7 778.3,400M758.3,374.2 760,388.3 750,391.7 741.7,400M806.7,371.7 805,388.3 800,400M836.7,383.3 833.3,391.7 836.7,400M840,383.3 845,396.7 850,400M708.3,333.3 713.3,335.8 718.3,332.5M714.2,385 721.7,393.3 723.3,390.8M758.3,396.7 766.7,398.3 780,396.7M710,393.3 716.7,396.7 718.3,400M878.3,261.7 885,260.8 890,265.8 896.7,266.7 901.7,269.2 904.2,276.7 910,277.5 914.2,272.5 921.7,271.7 926.7,270.8 931.7,272.5 932.5,265.8 933.3,261.7 938.3,259.2 940,253.3 945,250M879.2,273.3 885,275 890,281.7 895,290 900,295 904.2,296.7 904.2,289.2 908.3,283.3 910,277.5M914.2,272.5 913.3,278.3 918.3,281.7 925,280.8 930,276.7 931.7,272.5M908.3,283.3 913.3,285 918.3,281.7M913.3,285 915,291.7 920,290.8 918.3,285.8M889.2,300 890,305 895,301.7 900,297.5M890,305 888.3,316.7 890.8,328.3 898.3,328.3 903.3,323.3 906.7,316.7 910,311.7 913.3,300 915,296.7 920,298.3 925,303.3M904.2,296.7 911.7,297.5 915,296.7M890.8,328.3 893.3,336.7 892.5,343.3 890,348.3M925,303.3 918.3,308.3 921.7,316.7 918.3,325 913.3,333.3 908.3,341.7 911.7,348.3 913.3,353.3 910,356.7M890,348.3 896.7,347.5 901.7,346.7 906.7,353.3 910,358.3 908.3,365 913.3,366.7 915,361.7 916.7,365 917.5,376.7 919.2,388.3 921.7,400M933.3,400 935,391.7 938.3,383.3 943.3,375 948.3,366.7 953.3,363.3 956.7,361.7 958.3,356.7M953.3,363.3 951.7,350 955,343.3 960,345 958.3,353.3 963.3,356.7 961.7,363.3 959.2,360M925,303.3 931.7,303.3 930,311.7 928.3,320 935,326.7 943.3,333.3 951.7,336.7 956.7,335M935,326.7 934.2,331.7 941.7,336.7 950,340.8 953.3,340 951.7,336.7M955,336.7 960,336.7 959.2,340.8 955,340.8ZM956.7,335 963.3,333.3 968.3,330.8 973.3,335 971.7,340 966.7,343.3 963.3,350 960,356.7M973.3,335 975,343.3 971.7,351.7 975,356.7 978.3,358.3M961.7,363.3 964.2,373.3 967.5,381.7 966.7,388.3 970,385 973.3,380 975,388.3 975.8,400M960,356.7 963.3,366.7 965,373.3M973.3,371.7 978.3,370M972.5,378.3 973.3,391.7 975,400M951.7,250 956.7,256.7 958.3,261.7 965,264.2 970,271.7 975,274.2M710,393.3 711.7,400 715,406.7 718.3,415 721.7,423.3 726.7,430.8 731.7,438.3 738.3,434.2 745,435 751.7,431.7 758.3,430 763.3,436.7 768.3,437.5 771.7,443.3 772.5,448.3 771.7,453.3 770.8,461.7 773.3,468.3 776.7,475 778.3,483.3 780.8,493.3 780.8,506.7 778.3,516.7 776.7,530 778.3,540M710,393.3 715,396.7 723.3,395 725,390M711.7,396.7 716.7,400 715,403.3M723.3,395 725,403.3 730,405 731.7,411.7 738.3,410.8 740,415 745,410 753.3,408.3 756.7,406.7 760,398.3 770,399.2 780,398.3 781.7,390M715,406.7 723.3,405 730,405M718.3,415 725,415 728.3,421.7 731.7,411.7M725,415 727.5,430.8M731.7,438.3 733.3,423.3 731.7,411.7M745,435 743.3,423.3 744.2,410.8M751.7,431.7 750.8,420 750,410M754.2,430.8 753.3,408.3M758.3,430 759.2,411.7 760,398.3M759.2,411.7 763.3,408.3 773.3,403.3 780,398.3M771.7,443.3 773.3,433.3 778.3,426.7 781.7,418.3 782.5,410 785,413.3 785.8,405 780,398.3M782.5,418.3 790,423.3 796.7,418.3 800.8,411.7 800,401.7 803.3,390M833.3,390 831.7,400 828.3,410 826.7,421.7 830,428.3 831.7,436.7 829.2,439.2M785,446.7 783.3,436.7 783.3,426.7 790,423.3M790,435 793.3,434.2 801.7,438.3 806.7,433.3 813.3,435 818.3,439.2 829.2,439.2M831.7,436.7 836.7,440 843.3,441.7 848.3,438.3 855,433.3 860,423.3 850,411.7 847.5,406.7M846.7,390 848.3,398.3 847.5,406.7 856.7,407.5 866.7,405.8 867.5,413.3 863.3,423.3 860,433.3 855,445 848.3,455 843.3,465 840,475 840.8,485 841.7,500 843.3,513.3 842.5,521.7 836.7,531.7 831.7,540M836.7,390 843.3,398.3 847.5,405M843.3,441.7 842.5,463.3 840,475M829.2,439.2 830,448.3 827.5,460 819.2,461.7M827.5,460 835,468.3 840,475M820,440.8 821.7,450 818.3,456.7 819.2,461.7 815.8,468.3 816.7,478.3 818.3,486.7 820,493.3 826.7,496.7 828.3,506.7M785,446.7 790,443.3 793.3,435M776.7,476.7 780.8,473.3 785,468.3 788.3,460 790,451.7 791.7,441.7M772.5,448.3 778.3,447.5 780.8,453.3 782.5,463.3 778.3,468.3 776.7,473.3M771.7,448.3 776.7,447.5 776.7,453.3 772.5,454.2ZM772.5,448.3 783.3,447.5 785,446.7M776.7,476.7 780,481.7 786.7,481.7 790,490 796.7,486.7 800,490 800.8,503.3 810,505 812.5,506.7M800.8,503.3 800,513.3 801.7,526.7 798.3,533.3 778.3,531.7M812.5,506.7 816.7,505 815,496.7 816.7,493.3 823.3,496.7 826.7,506.7 828.3,516.7 823.3,520 818.3,523.3 813.3,530 806.7,533.3 803.3,531.7 801.7,526.7M812.5,506.7 813.3,513.3 818.3,514.2 817.5,510M828.3,506.7 835,506.7 842.5,503.3M826.7,498.3 828.3,506.7 830,516.7 831.7,523.3 829.2,528.3 826.7,521.7 825.8,511.7 826.7,498.3M823.3,520 826.7,526.7 825,533.3 826.7,540M818.3,523.3 821.7,528.3 823.3,536.7M798.3,533.3 800,540M803.3,531.7 810,535 810,540M816.7,464.2 820.8,465 820,471.7 816.7,470.8ZM861.7,540 863.3,533.3 865.8,523.3 865,511.7 861.7,509.2 858.3,518.3 855,523.3 850.8,528.3 850,535 850.8,540M848.3,505.8 854.2,511.7M776.7,530 779.2,540 781.7,551.7 784.2,563.3 786.7,575 789.2,585 790.8,595 791.7,603.3 795,607.5 801.7,604.2 808.3,603.3 813.3,600 818.3,593.3 821.7,585 825,575 825.8,568.3 823.3,565.8 826.7,565 830.8,561.7 831.7,553.3 830,545 832.5,538.3 836.7,531.7 838.3,530M776.7,531.7 798.3,532.5 803.3,535 805,531.7M798.3,532.5 798.3,550 795,551.7 793.3,578.3 790,581.7 787.5,578.3M795,570 798.3,573.3 801.7,565.8 806.7,567.5 810,560 815,553.3 821.7,552.5M805,531.7 810,540 815,551.7 821.7,552.5 825.8,546.7 826.7,538.3 826.7,530M821.7,552.5 822.5,568.3 825.8,570M812.5,582.5 815.8,580.8 816.7,585 813.3,588.3ZM821.7,569.2 825,569.2 825,574.2 822,574.2ZM850.8,530 849.2,540 848.3,551.7 849.2,561.7 853.3,567.5 858.3,564.2 860,555 861.7,543.3 864.2,530M918.3,390 921.7,400 925,411.7 927.5,421.7 930.8,416.7 932.5,411.7 933.3,400 934.2,390M933.3,417.5 935.8,420 936.7,426.7 934.2,431.7 932.5,426.7 933,420.8ZM961.7,400 960.8,406.7M966.7,433.3 970,432.5 974.2,436.7 976.7,443.3 978.3,446.7M967.5,437.5 971.7,445 974.2,453.3 976.7,456.7 975,463.3M968.3,435 973.3,441.7 975.3,451.7M971.7,390 973.3,398.3 974.2,410 976.7,421.7 978.3,428.3M974.2,390 975.8,400 976.7,411.7M385,361 388,365M390,366 393,370 394,373 396.5,376 393.5,376.5 392,371M540.9,126.2 546.3,127.3 550.7,125.7 556.1,127.9 562.6,126.2 569.1,127.3M490,118.7 495.4,117.6 499.8,119.8 496.5,123 492.2,122.5M500.8,116.5 506.2,115.4 511.7,117.6 508.4,120.8 503,120.3M512.8,118.7 519.2,117.6 525.8,119.2 531.2,121.9 526.8,124.1 520.3,123 514.9,121.9M492.2,127.3 498.7,126.2 505.2,128.4 511.7,127.3 518.2,129.5 524.7,128.4 531.2,130.6 535.5,133.8M490,141.4 496.5,140.3 503,142.5 509.5,140.9 514.9,143.6 521.4,141.4 526.8,144.7 533.3,142.5 538.8,145.8M490,152.2 495.4,153.3 494.3,157.7 500.8,159.8 507.3,157.7 513.8,160.9 520.3,158.8 525.8,162 532.2,166.3 535.5,162M514.9,143.6 518.2,149 524.7,152.2 530.1,150.1 535.5,153.3 540.9,156.6 546.3,160.9 550.7,166.3M544.2,142.5 548.5,147.9 555,151.2 553.9,145.8 559.3,142.5 565.8,145.8 572.3,144.7 576.7,147.9M542,172.8 548.5,175 555,171.8 560.4,176.1 565.8,173.9 572.3,179.3 578.8,177.2 585.3,181.5 591.8,179.3M537.7,181.5 544.2,184.8 550.7,180.4 557.2,185.8 563.7,182.6M579.9,137.1 584.2,145.8 587.5,151.2 592.9,156.6 598.3,160.9 604.8,166.3 610.2,169.6 607,173.9 602.7,170.7 598.3,168.5M584.2,118.7 589.7,116.5 598.3,114.9 602.7,115.4 594,117.6 587.5,120.3 585.3,123 590.8,125.2 598.3,124.1 599.4,121.9 594,122.5"/>
<path stroke-linecap="butt" stroke-width="2.6" d="M321.7,229.2 324.2,230M215.3,313 216.7,314M222.7,308.7 224.3,309.7M222.7,334.7 224.3,336M219.3,342.7 221,344.3M210.3,352.5 211.7,353.7M252.2,341.3 253.7,342.5M260,378.3 261.3,379.5M260.3,391.3 261.3,392.5M257.5,398.7 259.2,399.7M212,425.8 214.7,429.2M223.3,490.8 224.7,491.3M227,489.7 228.3,490.3M160.8,480.8 162,481.3M174.3,439.7 175.7,440.3M216.7,438.8 218,439.7M234.2,423.7 236.3,425M242.2,415.3 243.5,416.3M260.3,391.3 261.3,392.3M257.7,398 259.3,399M262.5,465.5 264.3,467M276,495.7 277.7,497M277.7,505.7 279.3,507M306.7,502.7 308.3,504M308.3,521.7 312.5,522.8M308.7,525.3 312.7,526.3M309.7,527.3 312,527.3M335.3,527 339.2,528.7M311.3,532 313.7,533.3M313.3,536.7 315,538.3M332,510.3 333.3,511.3M256,628 257.3,629M265.3,629 266.7,630M309.5,547 310.8,548.3M311.7,532.7 313.7,533.7M313.7,537 315,538M333.3,532 335,534.7M310.3,581.3 312.5,582.7M306,674.3 307.3,675.7M335.8,670.3 336.8,671.3M351.3,231.3 352.7,232.3M558.3,186.7 561.7,188.3M567.5,191.7 569.2,193.3M568,213.7 570.3,216M565.8,236.3 568,237.3M596.7,310.8 598.7,312M569.2,340.8 571.3,343M572.5,344.2 574.7,346.7M574.7,349.2 576.7,351.7M577,354.2 579.2,356.7M580,358.3 582.5,360.3M572.5,377.5 576.7,378.3M598.3,377.5 601.7,378.3M609.7,391.3 610.7,392.3M610.3,396.3 611.3,397.3M614.3,399.7 615.3,400.7M608,404.7 609,405.7M608.7,381.3 609.7,382.3M609.2,408.3 610.8,410M599.7,378.7 601,379.7M691.3,382 693,383M697,386.7 698.3,388.3M695.3,391 696.7,392.7M597.5,552.5 595,555M736.7,524.7 738.3,525.3M722,615.8 723,616.5M645.8,716.7 648.3,718.3M623,719.7 624.3,720.7M611.3,725.3 613,726.7M616,723.7 618,725M729.2,150 732.5,151.7M734.2,189.2 735,192.5M747.5,195.8 748.3,199.2M775.8,216.7 779.2,218.3M861,158 863,159.3M936,131.7 938,133M968.7,125.3 970,126.3M770.8,266.7 771.7,270.8M755,285.8 759.2,284.2M800,253.3 801.7,250M806.7,300 808.3,301.7M815,300 816.7,301.7M709.7,315.3 711,316.3M721.7,423.3 725.8,421.7M875.8,476 877.5,477.3M871.7,402.3 873.7,403.7M764.3,455.3 766,456.3M716,490.3 717.3,491.3M736.7,524.2 738.3,525.2M695.3,391 696.7,392.3M875.8,547 878,548M880,543.7 882,545M894.3,541 895.7,542.3M926.3,619.3 928.7,620.7M959.5,410.7 960.8,412M963.3,426 964.7,427.7M871.7,402.3 873.7,403.7M917,442.3 918.3,443.7M876,476 877.3,477.3M677.5,286.5 679.5,288M684.5,290 688,291.5M690.5,293.5 693,295M710,315.5 712.5,316.5M908,669 910.5,670"/>
</g>
<rect x="156.5" y="113.5" width="822" height="688" stroke="#000" stroke-width="1" fill="none" shape-rendering="crispEdges"/>
<g shape-rendering="crispEdges">
<rect x="1010" y="791.23" width="42" height="11.27" fill="#00008F"/>
<rect x="1010" y="780.47" width="42" height="11.27" fill="#00009F"/>
<rect x="1010" y="769.70" width="42" height="11.27" fill="#0000AF"/>
<rect x="1010" y="758.94" width="42" height="11.27" fill="#0000BF"/>
<rect x="1010" y="748.17" width="42" height="11.27" fill="#0000CF"/>
<rect x="1010" y="737.41" width="42" height="11.27" fill="#0000DF"/>
<rect x="1010" y="726.64" width="42" height="11.27" fill="#0000EF"/>
<rect x="1010" y="715.88" width="42" height="11.27" fill="#0000FF"/>
<rect x="1010" y="705.11" width="42" height="11.27" fill="#0010FF"/>
<rect x="1010" y="694.34" width="42" height="11.27" fill="#0020FF"/>
<rect x="1010" y="683.58" width="42" height="11.27" fill="#0030FF"/>
<rect x="1010" y="672.81" width="42" height="11.27" fill="#0040FF"/>
<rect x="1010" y="662.05" width="42" height="11.27" fill="#0050FF"/>
<rect x="1010" y="651.28" width="42" height="11.27" fill="#0060FF"/>
<rect x="1010" y="640.52" width="42" height="11.27" fill="#0070FF"/>
<rect x="1010" y="629.75" width="42" height="11.27" fill="#0080FF"/>
<rect x="1010" y="618.98" width="42" height="11.27" fill="#008FFF"/>
<rect x="1010" y="608.22" width="42" height="11.27" fill="#009FFF"/>
<rect x="1010" y="597.45" width="42" height="11.27" fill="#00AFFF"/>
<rect x="1010" y="586.69" width="42" height="11.27" fill="#00BFFF"/>
<rect x="1010" y="575.92" width="42" height="11.27" fill="#00CFFF"/>
<rect x="1010" y="565.16" width="42" height="11.27" fill="#00DFFF"/>
<rect x="1010" y="554.39" width="42" height="11.27" fill="#00EFFF"/>
<rect x="1010" y="543.62" width="42" height="11.27" fill="#00FFFF"/>
<rect x="1010" y="532.86" width="42" height="11.27" fill="#10FFEF"/>
<rect x="1010" y="522.09" width="42" height="11.27" fill="#20FFDF"/>
<rect x="1010" y="511.33" width="42" height="11.27" fill="#30FFCF"/>
<rect x="1010" y="500.56" width="42" height="11.27" fill="#40FFBF"/>
<rect x="1010" y="489.80" width="42" height="11.27" fill="#50FFAF"/>
<rect x="1010" y="479.03" width="42" height="11.27" fill="#60FF9F"/>
<rect x="1010" y="468.27" width="42" height="11.27" fill="#70FF8F"/>
<rect x="1010" y="457.50" width="42" height="11.27" fill="#80FF80"/>
<rect x="1010" y="446.73" width="42" height="11.27" fill="#8FFF70"/>
<rect x="1010" y="435.97" width="42" height="11.27" fill="#9FFF60"/>
<rect x="1010" y="425.20" width="42" height="11.27" fill="#AFFF50"/>
<rect x="1010" y="414.44" width="42" height="11.27" fill="#BFFF40"/>
<rect x="1010" y="403.67" width="42" height="11.27" fill="#CFFF30"/>
<rect x="1010" y="392.91" width="42" height="11.27" fill="#DFFF20"/>
<rect x="1010" y="382.14" width="42" height="11.27" fill="#EFFF10"/>
<rect x="1010" y="371.38" width="42" height="11.27" fill="#FFFF00"/>
<rect x="1010" y="360.61" width="42" height="11.27" fill="#FFEF00"/>
<rect x="1010" y="349.84" width="42" height="11.27" fill="#FFDF00"/>
<rect x="1010" y="339.08" width="42" height="11.27" fill="#FFCF00"/>
<rect x="1010" y="328.31" width="42" height="11.27" fill="#FFBF00"/>
<rect x="1010" y="317.55" width="42" height="11.27" fill="#FFAF00"/>
<rect x="1010" y="306.78" width="42" height="11.27" fill="#FF9F00"/>
<rect x="1010" y="296.02" width="42" height="11.27" fill="#FF8F00"/>
<rect x="1010" y="285.25" width="42" height="11.27" fill="#FF8000"/>
<rect x="1010" y="274.48" width="42" height="11.27" fill="#FF7000"/>
<rect x="1010" y="263.72" width="42" height="11.27" fill="#FF6000"/>
<rect x="1010" y="252.95" width="42" height="11.27" fill="#FF5000"/>
<rect x="1010" y="242.19" width="42" height="11.27" fill="#FF4000"/>
<rect x="1010" y="231.42" width="42" height="11.27" fill="#FF3000"/>
<rect x="1010" y="220.66" width="42" height="11.27" fill="#FF2000"/>
<rect x="1010" y="209.89" width="42" height="11.27" fill="#FF1000"/>
<rect x="1010" y="199.12" width="42" height="11.27" fill="#FF0000"/>
<rect x="1010" y="188.36" width="42" height="11.27" fill="#EF0000"/>
<rect x="1010" y="177.59" width="42" height="11.27" fill="#DF0000"/>
<rect x="1010" y="166.83" width="42" height="11.27" fill="#CF0000"/>
<rect x="1010" y="156.06" width="42" height="11.27" fill="#BF0000"/>
<rect x="1010" y="145.30" width="42" height="11.27" fill="#AF0000"/>
<rect x="1010" y="134.53" width="42" height="11.27" fill="#9F0000"/>
<rect x="1010" y="123.77" width="42" height="11.27" fill="#8F0000"/>
<rect x="1010" y="113.00" width="42" height="11.27" fill="#800000"/>
<rect x="1010.5" y="113.5" width="42" height="689" fill="none" stroke="#000"/>
<path stroke="#000" fill="none" d="M1011,725.5h6.5M1052,725.5h-6.5M1011,648.5h6.5M1052,648.5h-6.5M1011,572.5h6.5M1052,572.5h-6.5M1011,495.5h6.5M1052,495.5h-6.5M1011,419.5h6.5M1052,419.5h-6.5M1011,342.5h6.5M1052,342.5h-6.5M1011,266.5h6.5M1052,266.5h-6.5M1011,189.5h6.5M1052,189.5h-6.5"/>
</g>
<g font-family="'Liberation Sans',sans-serif" font-size="20px" fill="#000">
<text x="1058.5" y="808.2">0.1</text>
<text x="1058.5" y="731.6">0.2</text>
<text x="1058.5" y="655.1">0.3</text>
<text x="1058.5" y="578.5">0.4</text>
<text x="1058.5" y="502.0">0.5</text>
<text x="1058.5" y="425.4">0.6</text>
<text x="1058.5" y="348.9">0.7</text>
<text x="1058.5" y="272.3">0.8</text>
<text x="1058.5" y="195.8">0.9</text>
<text x="1058.5" y="119.2">1</text>
</g>
<g font-family="'Liberation Mono',monospace" fill="#000">
<g font-size="23px" letter-spacing="1.2px" text-anchor="middle">
<text x="566.5" y="19.5">WAAS RNP 0.1 Coverage Contours</text>
<text x="566.5" y="45.5">10/31/25</text>
<text x="566.5" y="71.5">Week 2390 Day 5</text>
</g>
<g font-size="20px" letter-spacing="0.55px" text-anchor="end" stroke="#fff" stroke-width="0.3">
<text x="148.5" y="117.4">80</text>
<text x="148.5" y="203.4">60</text>
<text x="148.5" y="289.4">40</text>
<text x="148.5" y="375.4">20</text>
<text x="148.5" y="461.4">0</text>
<text x="148.5" y="547.4">-20</text>
<text x="148.5" y="633.4">-40</text>
<text x="148.5" y="719.4">-60</text>
<text x="148.5" y="805.4">-80</text>
</g>
<g font-size="20px" letter-spacing="0.55px" text-anchor="middle" stroke="#fff" stroke-width="0.3">
<text x="179.6" y="822.8">E110</text>
<text x="293.8" y="822.8">E160</text>
<text x="408.0" y="822.8">W150</text>
<text x="522.1" y="822.8">W100</text>
<text x="636.3" y="822.8">W50</text>
<text x="750.5" y="822.8">0</text>
<text x="864.6" y="822.8">E50</text>
<text x="978.8" y="822.8">E100</text>
</g>
<g font-size="18px" font-weight="bold" text-anchor="middle">
<text x="569.5" y="843.5">Longitude</text>
<text transform="translate(98.5,454.5) rotate(-90)">Latitude</text>
</g>
<path d="M717.5,663.5H936" stroke="#000" stroke-width="1" stroke-dasharray="8 2.85" shape-rendering="crispEdges" fill="none"/><path d="M800.5,630V705" stroke="#000" stroke-width="1" shape-rendering="crispEdges"/>
<g font-size="17px" letter-spacing="0.68px" xml:space="preserve" stroke="#fff" stroke-width="0.2">
<text x="717.5" y="642.5" xml:space="preserve">Percent NPA Service Area</text>
<text x="717.5" y="660.0" xml:space="preserve"> Avail.    Coverage</text>
<text x="717.5" y="675.5" xml:space="preserve"> 99       100.00%</text>
<text x="717.5" y="688.8" xml:space="preserve"> 99.9     100.00%</text>
<text x="717.5" y="702.0" xml:space="preserve"> 100      100.00%</text>
</g>
<g font-size="12.5px" >
<text transform="translate(177.5,700.8) scale(0.8,1)">W.J.H. FAA Technical Center</text>
<text transform="translate(177.5,713.8) scale(0.8,1)">WAAS Test Team</text>
</g>
</g>
</svg></body></html>
